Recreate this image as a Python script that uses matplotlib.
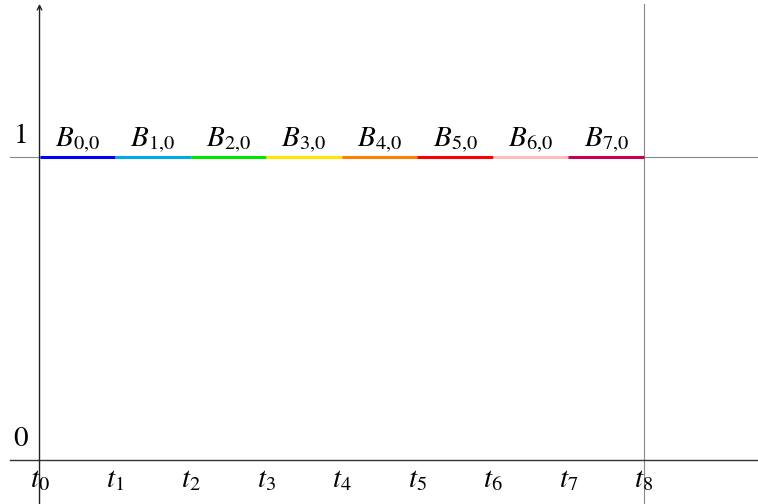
import numpy as np
import matplotlib
matplotlib.use("Agg")
import matplotlib.pyplot as plt

# knots t0..t8 and the degree-0 basis functions B_{i,0}
knots = [0, 1, 2, 3, 4, 5, 6, 7, 8]
basis_labels = [r"$B_{%d{,}0}$" % i for i in range(8)]
basis_values = [1, 1, 1, 1, 1, 1, 1, 1]
colors = ["#0000ff", "#00aae6", "#00e600", "#ffe600",
          "#ff8000", "#ff0000", "#ffbebe", "#c80050"]
knot_labels = [r"$t_{%d}$" % i for i in range(9)]
ytick_vals = [0, 1]

plt.rcParams["mathtext.fontset"] = "stix"
plt.rcParams["font.family"] = "STIXGeneral"

fig = plt.figure(figsize=(7.58, 5.04), dpi=100)
ax = fig.add_axes([0, 0, 1, 1])
ax.set_xlim(-0.523, 9.509)
ax.set_ylim(-0.145, 1.518)
ax.axis("off")

fs = 21

# guide lines at y=1 and x=t8
ax.plot([-0.39, 9.509], [1, 1], color="#888888", lw=0.8, zorder=1)
ax.plot([8, 8], [-0.145, 1.505], color="#888888", lw=0.8, zorder=1)

# axes
ax.plot([-0.39, 9.509], [0, 0], color="#333333", lw=1.0, zorder=2)
ax.annotate("", xy=(0, 1.505), xytext=(0, -0.145),
            arrowprops=dict(arrowstyle="->", color="#222222", lw=1.0,
                            shrinkA=0, shrinkB=0, mutation_scale=8))

# basis segments
for i in range(8):
    ax.plot([knots[i], knots[i + 1]], [basis_values[i], basis_values[i]],
            color=colors[i], lw=2.2, solid_capstyle="butt", zorder=3)
    ax.text((knots[i] + knots[i + 1]) / 2, basis_values[i] + 0.008, basis_labels[i],
            ha="center", va="bottom", fontsize=fs)

# knot labels
for k, lab in zip(knots, knot_labels):
    ax.text(k, -0.025, lab, ha="center", va="top", fontsize=fs)

# y tick labels
for v in ytick_vals:
    ax.text(-0.25, v + 0.025, str(v), ha="center", va="bottom", fontsize=fs)

fig.savefig("out.png", dpi=100)
